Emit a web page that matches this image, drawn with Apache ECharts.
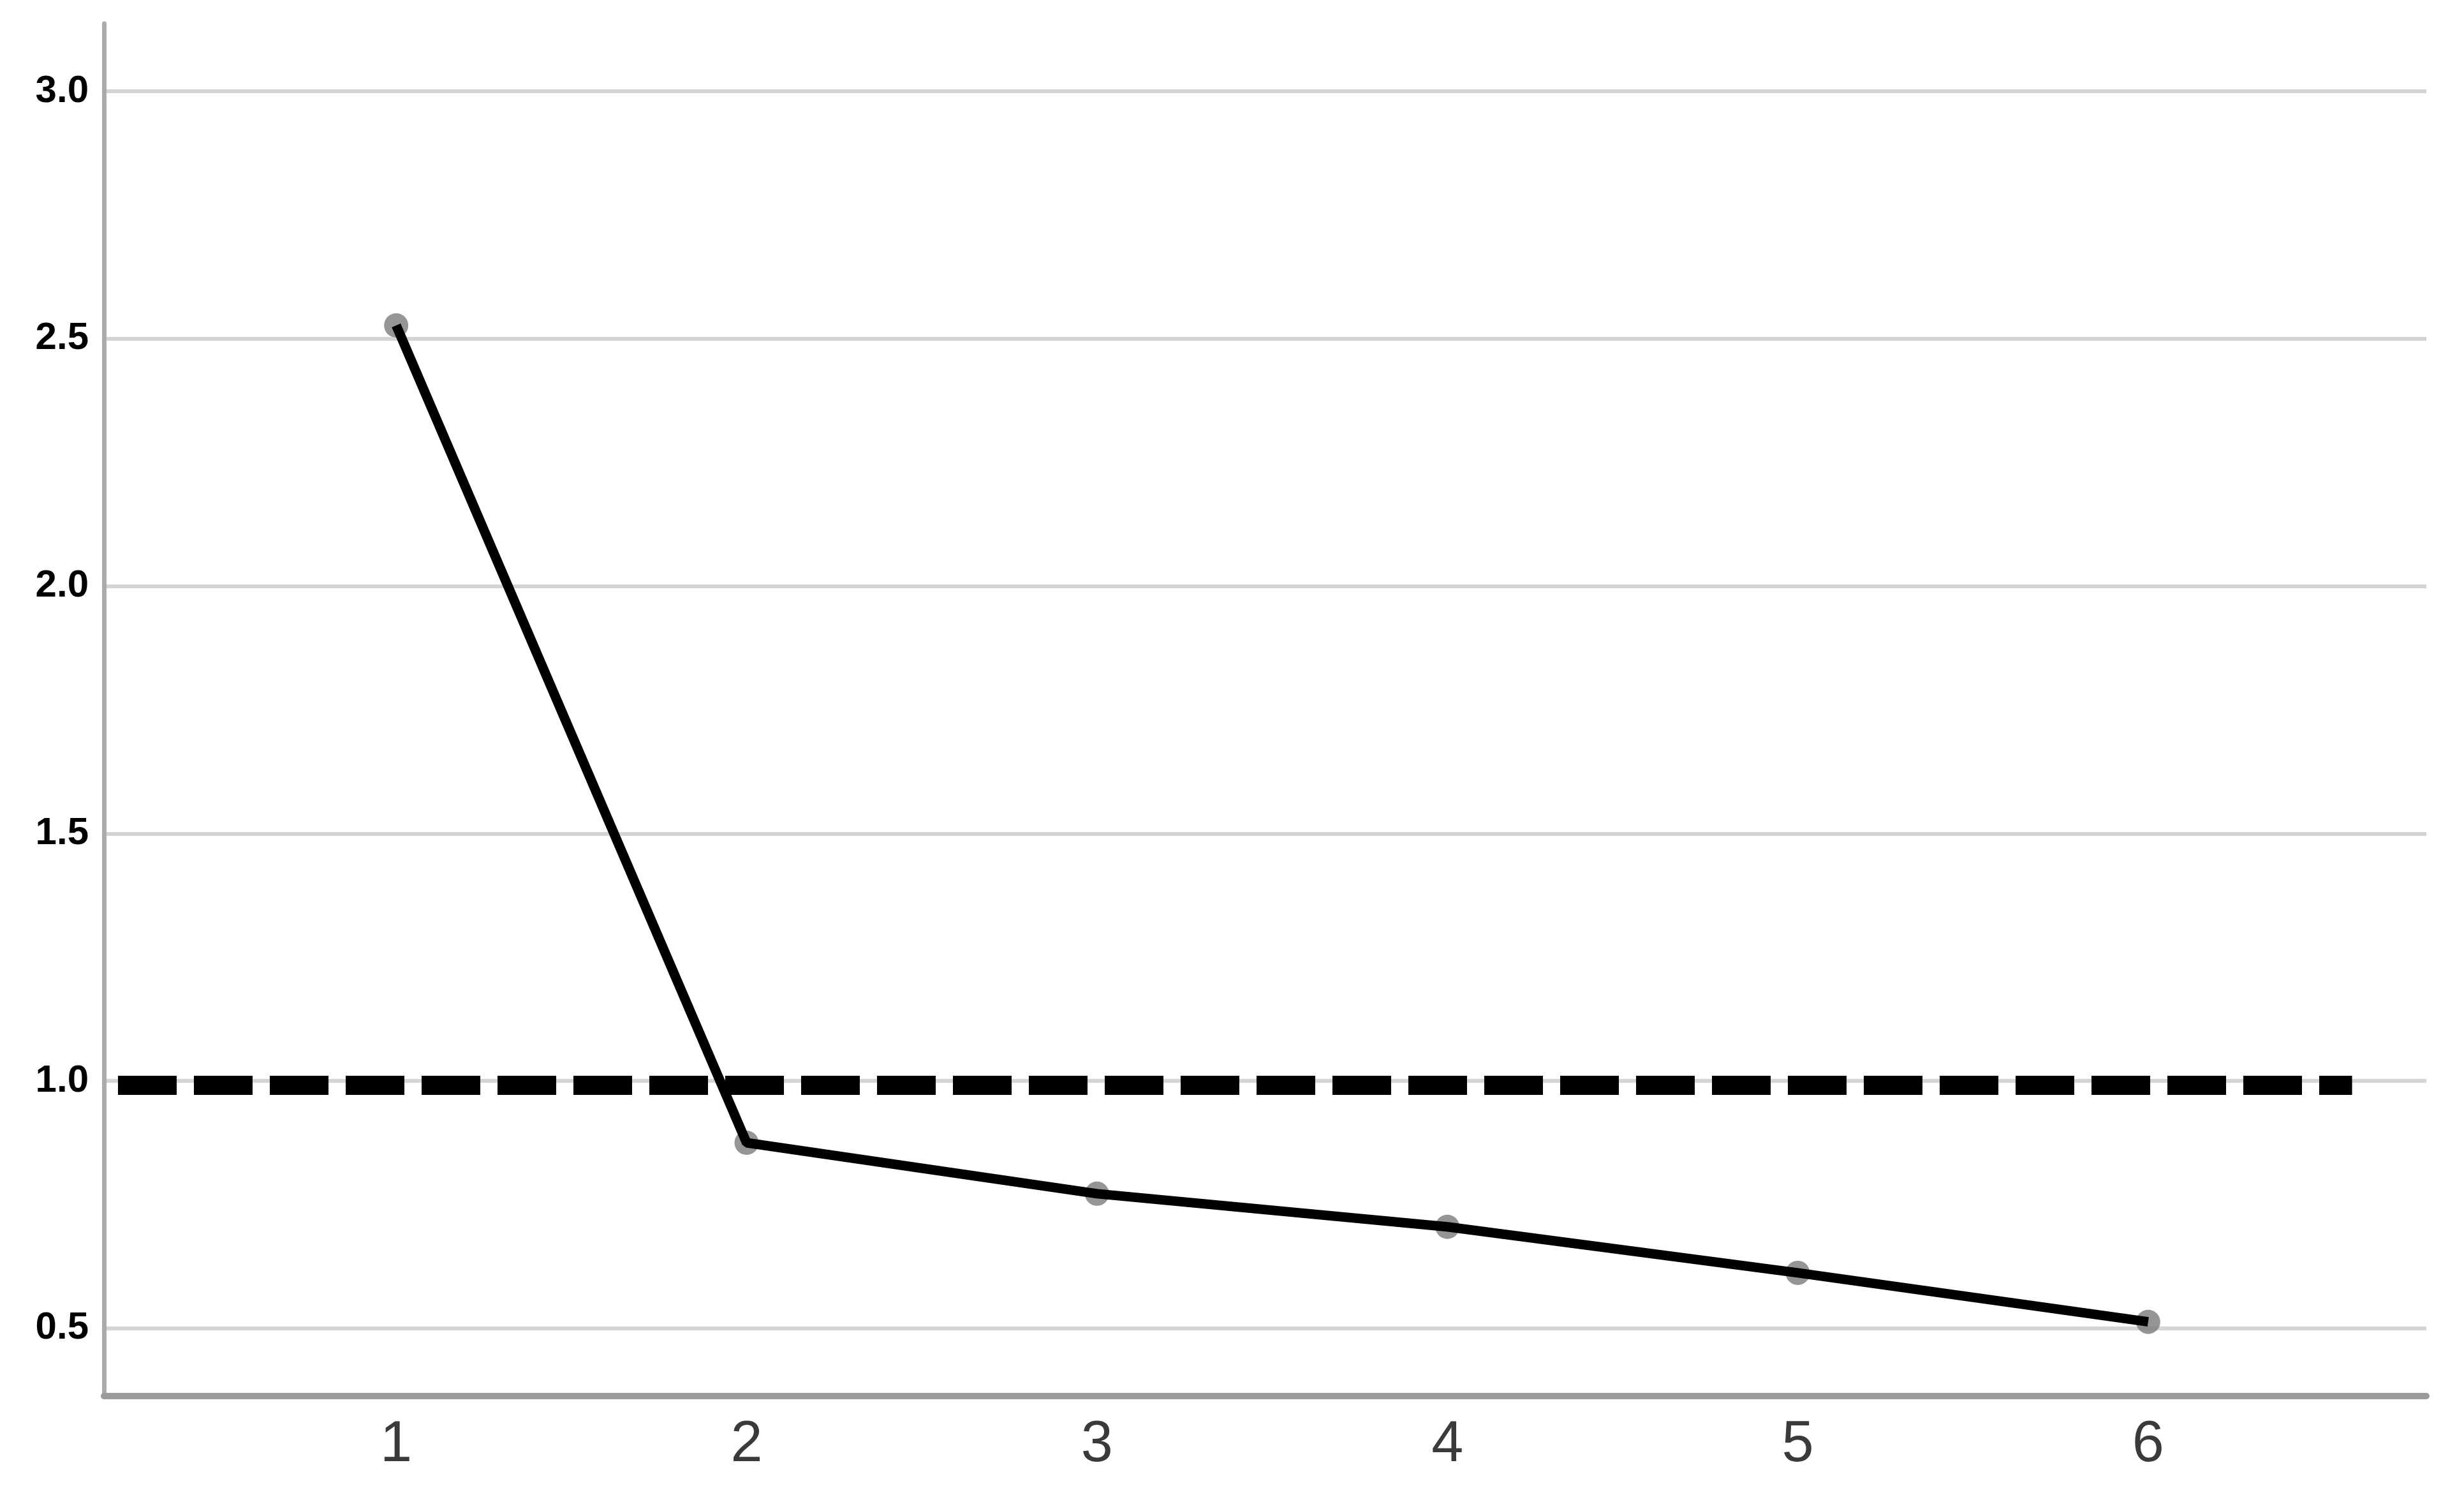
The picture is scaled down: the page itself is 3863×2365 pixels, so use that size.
<!DOCTYPE html>
<html>
<head>
<meta charset="utf-8">
<script src="https://cdn.jsdelivr.net/npm/echarts@6/dist/echarts.min.js"></script>
<style>
  html, body { margin: 0; padding: 0; background: #fff; }
  #chart { width: 3863px; height: 2365px; }
</style>
</head>
<body>
<div id="chart"></div>
<script>
// component numbers and their eigenvalues (scree plot)
const components = [1, 2, 3, 4, 5, 6];
const eigenvalues = [2.527, 0.875, 0.772, 0.705, 0.612, 0.513];
const yTicks = [0.5, 1.0, 1.5, 2.0, 2.5, 3.0];
// dashed reference line (eigenvalue ~ 1), as drawn
const refLevel = 0.991;
const refSpan = [0.206, 6.582];

const chart = echarts.init(document.getElementById('chart'));

let pointData = components.map((c, i) => [c, eigenvalues[i]]);
let refData = refSpan.map(x => [x, refLevel]);

chart.setOption({
  animation: false,
  backgroundColor: '#ffffff',
  grid: { left: 163, right: 59, top: 37, bottom: 177, containLabel: false },
  xAxis: {
    type: 'value',
    min: 0.166,
    max: 6.794,
    axisLine: { show: true, lineStyle: { color: '#9a9a9a', width: 10 } },
    axisTick: { show: false, customValues: components },
    splitLine: { show: false },
    axisLabel: {
      customValues: components,
      margin: 32,
      color: '#3a3a3a',
      fontFamily: 'Liberation Sans Narrow, Liberation Sans, sans-serif',
      fontSize: 90
    }
  },
  yAxis: {
    type: 'value',
    min: 0.363,
    max: 3.137,
    axisLine: { show: true, lineStyle: { color: '#ababab', width: 7 } },
    axisTick: { show: false, customValues: yTicks },
    splitLine: { show: true, lineStyle: { color: '#d4d4d4', width: 6 } },
    axisLabel: {
      customValues: yTicks,
      margin: 24,
      color: '#000000',
      fontFamily: 'Liberation Sans, Arial, sans-serif',
      fontWeight: 'bold',
      fontSize: 60,
      formatter: v => v.toFixed(1)
    }
  },
  series: [
    {
      // markers sit under the line
      type: 'scatter',
      data: pointData,
      symbol: 'circle',
      symbolSize: 38,
      itemStyle: { color: '#7a7a7a' },
      z: 2
    },
    {
      type: 'line',
      data: pointData,
      showSymbol: false,
      lineStyle: { color: '#000000', width: 15 },
      z: 3
    },
    {
      type: 'line',
      data: refData,
      showSymbol: false,
      lineStyle: { color: '#000000', width: 30, type: [92, 27], cap: 'butt' },
      z: 4
    }
  ]
});
</script>
</body>
</html>
